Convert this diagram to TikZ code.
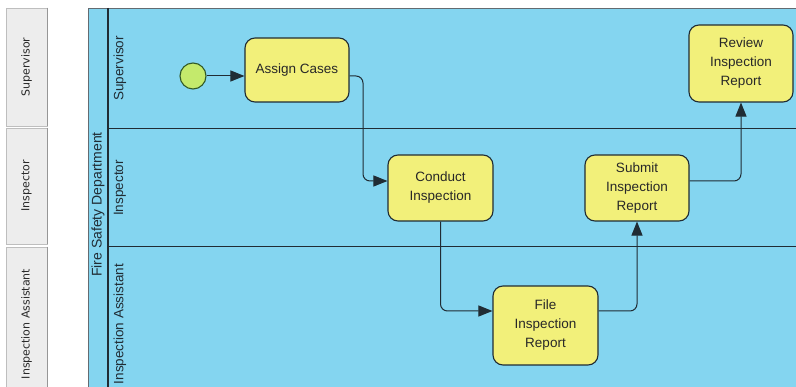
\documentclass[tikz,border=0pt]{standalone}
\usepackage{fontspec}
\setmainfont{Liberation Sans}
\newfontfamily\tabfont{DejaVu Sans}
\usetikzlibrary{arrows.meta}
\definecolor{poolblue}{RGB}{132,213,240}
\definecolor{taskyellow}{RGB}{242,240,122}
\definecolor{edgedark}{RGB}{32,44,52}
\definecolor{startgreen}{RGB}{196,234,108}
\definecolor{startborder}{RGB}{50,90,40}
\definecolor{tabfill}{RGB}{237,237,237}
\definecolor{tabborder}{RGB}{190,190,190}
\definecolor{tabedge}{RGB}{150,150,150}
\definecolor{txt}{RGB}{40,40,40}
\tikzset{
  task/.style={draw=edgedark, fill=taskyellow, line width=1.1pt, rounded corners=10pt,
    align=center, font=\fontsize{13.5}{19}\selectfont, text=txt, inner sep=0pt},
  flow/.style={draw=edgedark, line width=1pt, rounded corners=7pt,
    -{Triangle[length=14pt,width=11pt]}},
  tabbox/.style={draw=tabborder, fill=tabfill, line width=0.8pt, inner sep=0pt},
  tablabel/.style={rotate=90, font=\tabfont\fontsize{11}{13}\selectfont, text=txt},
  lanelabel/.style={rotate=90, font=\fontsize{13.5}{16}\selectfont, text=edgedark},
  laneline/.style={draw=edgedark, line width=1pt}
}
\begin{document}
\begin{tikzpicture}[x=1pt,y=-1pt]
\useasboundingbox (0,0) rectangle (796,387);
\clip (0,0) rectangle (796,387);
\fill[white] (0,0) rectangle (796,387);
% left tabs
\node[tabbox, minimum width=41pt, minimum height=118pt] (tab1) at (26.5,67) {};
\node[tabbox, minimum width=41pt, minimum height=116pt] (tab2) at (26.5,186) {};
\node[tabbox, minimum width=41pt, minimum height=154pt] (tab3) at (26.5,324) {};
\draw[tabedge, line width=1.2pt] (tab1.north east) -- (tab1.south east);
\draw[tabedge, line width=1.2pt] (tab2.north east) -- (tab2.south east);
\draw[tabedge, line width=1.2pt] (tab3.north east) -- (tab3.south east);
\node[tablabel] (tabt1) at (tab1.center) {Supervisor};
\node[tablabel] (tabt2) at (tab2.center) {Inspector};
\node[tablabel] (tabt3) at (tab3.center) {Inspection Assistant};
% pool
\fill[poolblue] (88,8) rectangle (800,401);
\draw[edgedark!70, line width=0.8pt] (800,8) -- (88,8) -- (88,401);
\draw[edgedark, line width=1.8pt] (108,8) -- (108,401);
\node[rotate=90, font=\fontsize{14}{16}\selectfont, text=edgedark] (pool) at (98,204.5) {Fire Safety Department};
% lanes
\draw[laneline] (108,129) -- (800,129);
\draw[laneline] (108,247) -- (800,247);
\node[lanelabel] (l1) at (120,68.5) {Supervisor};
\node[lanelabel] (l2) at (120,188) {Inspector};
\node[lanelabel] (l3) at (120,324) {Inspection Assistant};
% nodes
\node[circle, draw=startborder, fill=startgreen, line width=1.1pt, minimum size=26pt, inner sep=0pt] (start) at (193,76) {};
\node[task, minimum width=104pt, minimum height=64pt] (assign) at (297,70) {Assign Cases};
\node[task, minimum width=104pt, minimum height=77pt] (review) at (741,63.5) {Review\\Inspection\\Report};
\node[task, minimum width=105pt, minimum height=66pt] (conduct) at (440.5,188) {Conduct\\Inspection};
\node[task, minimum width=104pt, minimum height=66pt] (submit) at (637,188) {Submit\\Inspection\\Report};
\node[task, minimum width=105pt, minimum height=79pt] (file) at (545.5,325.5) {File\\Inspection\\Report};
% bend coordinates
\coordinate (b1) at (363,181);
\coordinate (b2) at (441,311);
% flows
\draw[flow] (start) -- (assign.west |- start);
\draw[flow] (assign.east |- start) -| (b1) -- (conduct.west |- b1);
\draw[flow] (conduct.south) |- (file.west |- b2);
\draw[flow] (file.east |- b2) -| (submit.south);
\draw[flow] (submit.east |- b1) -| (review.south);
\end{tikzpicture}
\end{document}
